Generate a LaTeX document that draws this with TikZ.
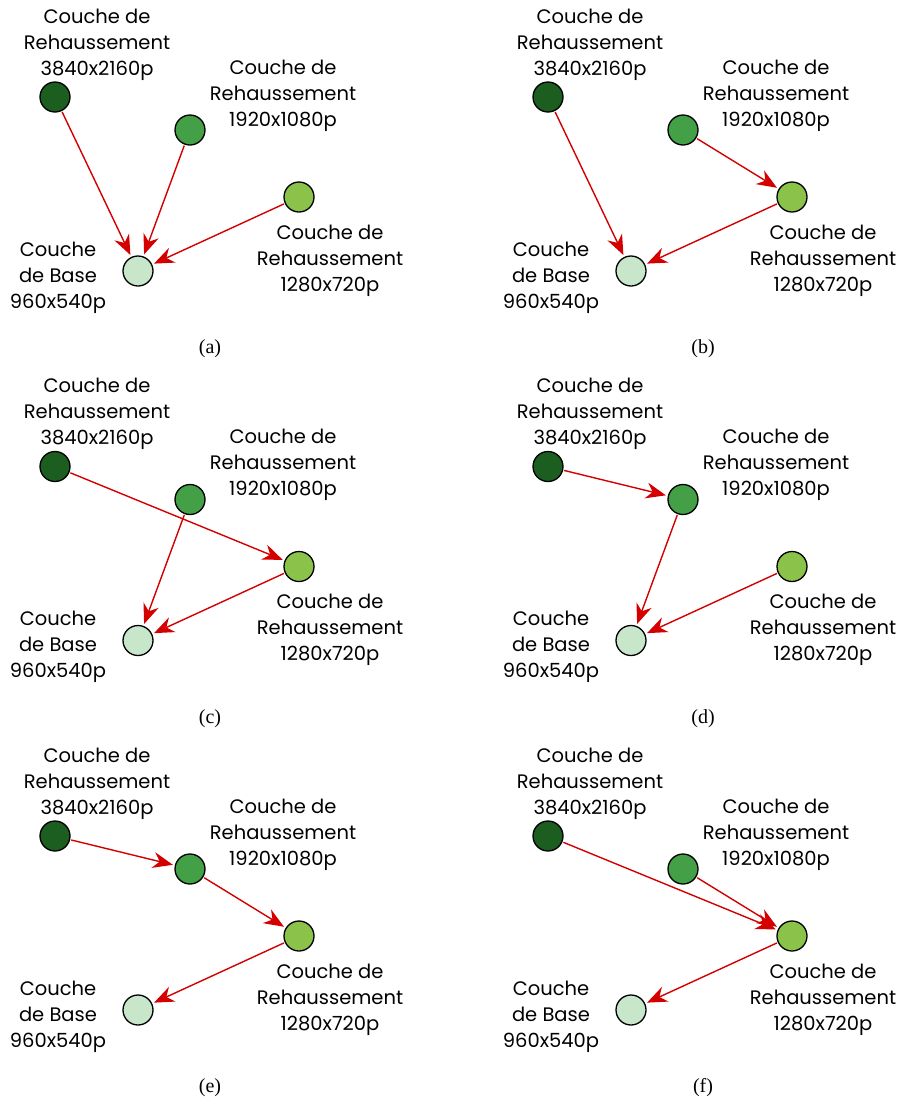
\documentclass[tikz,border=0pt]{standalone}
\usepackage{fontspec}
\setmainfont{Poppins}
\newfontfamily\capfont{Liberation Serif}
\usetikzlibrary{arrows.meta}
\definecolor{cA}{HTML}{1B5E20}
\definecolor{cB}{HTML}{43A047}
\definecolor{cC}{HTML}{8BC34A}
\definecolor{cD}{HTML}{C8E6C9}
\definecolor{arrred}{HTML}{D40000}
\tikzset{
  lay/.style={circle, draw=black, line width=1.3pt, minimum size=30pt, inner sep=0pt},
  lbl/.style={align=center, font=\fontsize{19.5}{26}\selectfont, inner sep=0pt},
  captxt/.style={font=\capfont\fontsize{20}{22}\selectfont, inner sep=0pt},
  arr/.style={draw=arrred, line width=1.4pt, -{Stealth[length=20pt,width=16pt]}, shorten >=2pt, shorten <=1pt}
}
\newcommand\mypanel[4]{%
\begin{scope}[shift={(#2,#3)}]
\node[lay, fill=cA] (#1d) at (55,97) {};
\node[lay, fill=cB] (#1m) at (190,130) {};
\node[lay, fill=cC] (#1l) at (299,197) {};
\node[lay, fill=cD] (#1b) at (138,271) {};
\node[lbl] (#1dt) at (97,44.5) {Couche de\\Rehaussement\\3840x2160p};
\node[lbl] (#1mt) at (283,95.5) {Couche de\\Rehaussement\\1920x1080p};
\node[lbl] (#1lt) at (330,260.5) {Couche de\\Rehaussement\\1280x720p};
\node[lbl] (#1bt) at (58,277.5) {Couche\\de Base\\960x540p};
\node[captxt] (#1cap) at (210,349) {#4};
\end{scope}}
\begin{document}
\begin{tikzpicture}[x=1pt,y=-1pt]
\useasboundingbox (0,0) rectangle (900,1101);
\mypanel{a}{0}{0}{(a)}
\mypanel{b}{493}{0}{(b)}
\mypanel{c}{0}{369.5}{(c)}
\mypanel{d}{493}{369.5}{(d)}
\mypanel{e}{0}{739}{(e)}
\mypanel{f}{493}{739}{(f)}
% (a)
\draw[arr] (ad) -- (ab);
\draw[arr] (am) -- (ab);
\draw[arr] (al) -- (ab);
% (b)
\draw[arr] (bd) -- (bb);
\draw[arr] (bm) -- (bl);
\draw[arr] (bl) -- (bb);
% (c)
\draw[arr] (cd) -- (cl);
\draw[arr] (cm) -- (cb);
\draw[arr] (cl) -- (cb);
% (d)
\draw[arr] (dd) -- (dm);
\draw[arr] (dm) -- (db);
\draw[arr] (dl) -- (db);
% (e)
\draw[arr] (ed) -- (em);
\draw[arr] (em) -- (el);
\draw[arr] (el) -- (eb);
% (f)
\draw[arr] (fd) -- (fl);
\draw[arr] (fm) -- (fl);
\draw[arr] (fl) -- (fb);
\end{tikzpicture}
\end{document}
